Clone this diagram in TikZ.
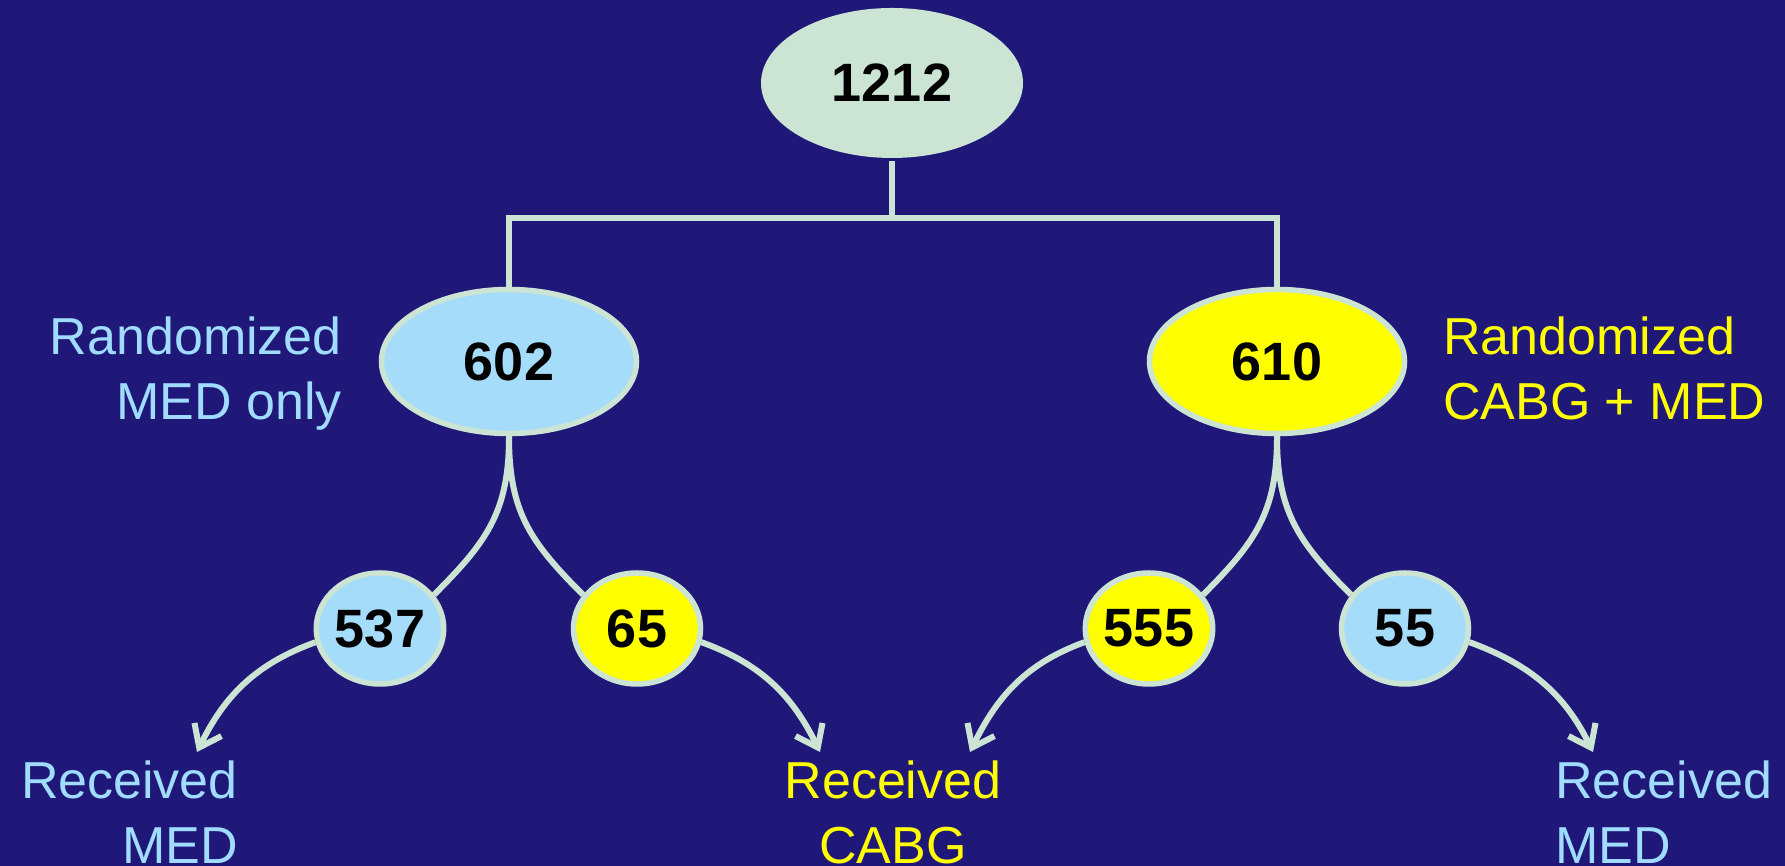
\documentclass[tikz,border=0pt]{standalone}
\usepackage{fontspec}
\setmainfont{Liberation Sans}
\usetikzlibrary{shapes.geometric,arrows.meta}
\definecolor{bg}{RGB}{32,24,120}
\definecolor{sage}{RGB}{204,228,212}
\definecolor{sky}{RGB}{164,220,250}
\definecolor{skytext}{RGB}{160,220,255}
\definecolor{lemon}{RGB}{255,255,0}

\begin{document}
\begin{tikzpicture}[x=1pt,y=1pt,
  count/.style={ellipse, draw=sage, line width=5.5pt, inner sep=0pt,
    font=\fontsize{54}{54}\selectfont\bfseries, text=black},
  big/.style={count, minimum width=255pt, minimum height=144pt},
  small/.style={count, minimum width=127pt, minimum height=111pt},
  trunk/.style={draw=sage, line width=6.5pt},
  branch/.style={draw=sage, line width=6pt},
  flow/.style={draw=sage, line width=6pt, -{Straight Barb[length=20pt,width=30pt]}},
  lbl/.style={font=\fontsize{52}{65}\selectfont, inner sep=0pt}
]
% background
\fill[bg] (0,0) rectangle (1785,866);
\useasboundingbox (0,0) rectangle (1785,866);

% total
\node[count, draw=none, fill=sage, minimum width=262pt, minimum height=150pt] (total) at (892,783) {1212};

% randomized arms
\node[big, fill=sky]   (arm602) at (509,504.5) {602};
\node[big, fill=lemon] (arm610) at (1277,504.5) {610};

% treatment received
\node[small, fill=sky]   (got537) at (380,237.5) {537};
\node[small, fill=lemon] (got65)  at (637,237.5) {65};
\node[small, fill=lemon] (got555) at (1149,237.5) {555};
\node[small, fill=sky]   (got55)  at (1405,237.5) {55};

% tree from the total
\coordinate (hub) at (892,648);
\draw[trunk] (total.south) -- (hub);
\draw[trunk, line join=miter] (arm602.north) |- (hub) -| (arm610.north);

% branches to the received groups
\draw[branch] (arm602.south) to[out=-90, in=45, looseness=1.1] (got537.32);
\draw[branch] (arm602.south) to[out=-90, in=135, looseness=1.1] (got65.148);
\draw[branch] (arm610.south) to[out=-90, in=45, looseness=1.1] (got555.32);
\draw[branch] (arm610.south) to[out=-90, in=135, looseness=1.1] (got55.148);

% arrows to the outcome labels
\coordinate (tipA) at (197,114);
\coordinate (tipB) at (820,114);
\coordinate (tipC) at (970,114);
\coordinate (tipD) at (1593,114);
\draw[flow] (got537.192) to[out=200, in=64]  (tipA);
\draw[flow] (got65.-12)  to[out=-20, in=116] (tipB);
\draw[flow] (got555.192) to[out=200, in=64]  (tipC);
\draw[flow] (got55.-12)  to[out=-20, in=116] (tipD);

% labels (base anchor sits on the last line)
\node[lbl, text=skytext, align=right, anchor=base east] (armlblA) at (342,446) {Randomized\\MED only};
\node[lbl, text=lemon, align=left, anchor=base west] (armlblB) at (1443,446) {Randomized\\CABG + MED};
\node[lbl, text=skytext, align=right, anchor=base east] (outA) at (238,2) {Received\\MED};
\node[lbl, text=lemon, align=center, anchor=base] (outB) at (893,2) {Received\\CABG};
\node[lbl, text=skytext, align=left, anchor=base west] (outC) at (1555,2) {Received\\MED};
\end{tikzpicture}
\end{document}
